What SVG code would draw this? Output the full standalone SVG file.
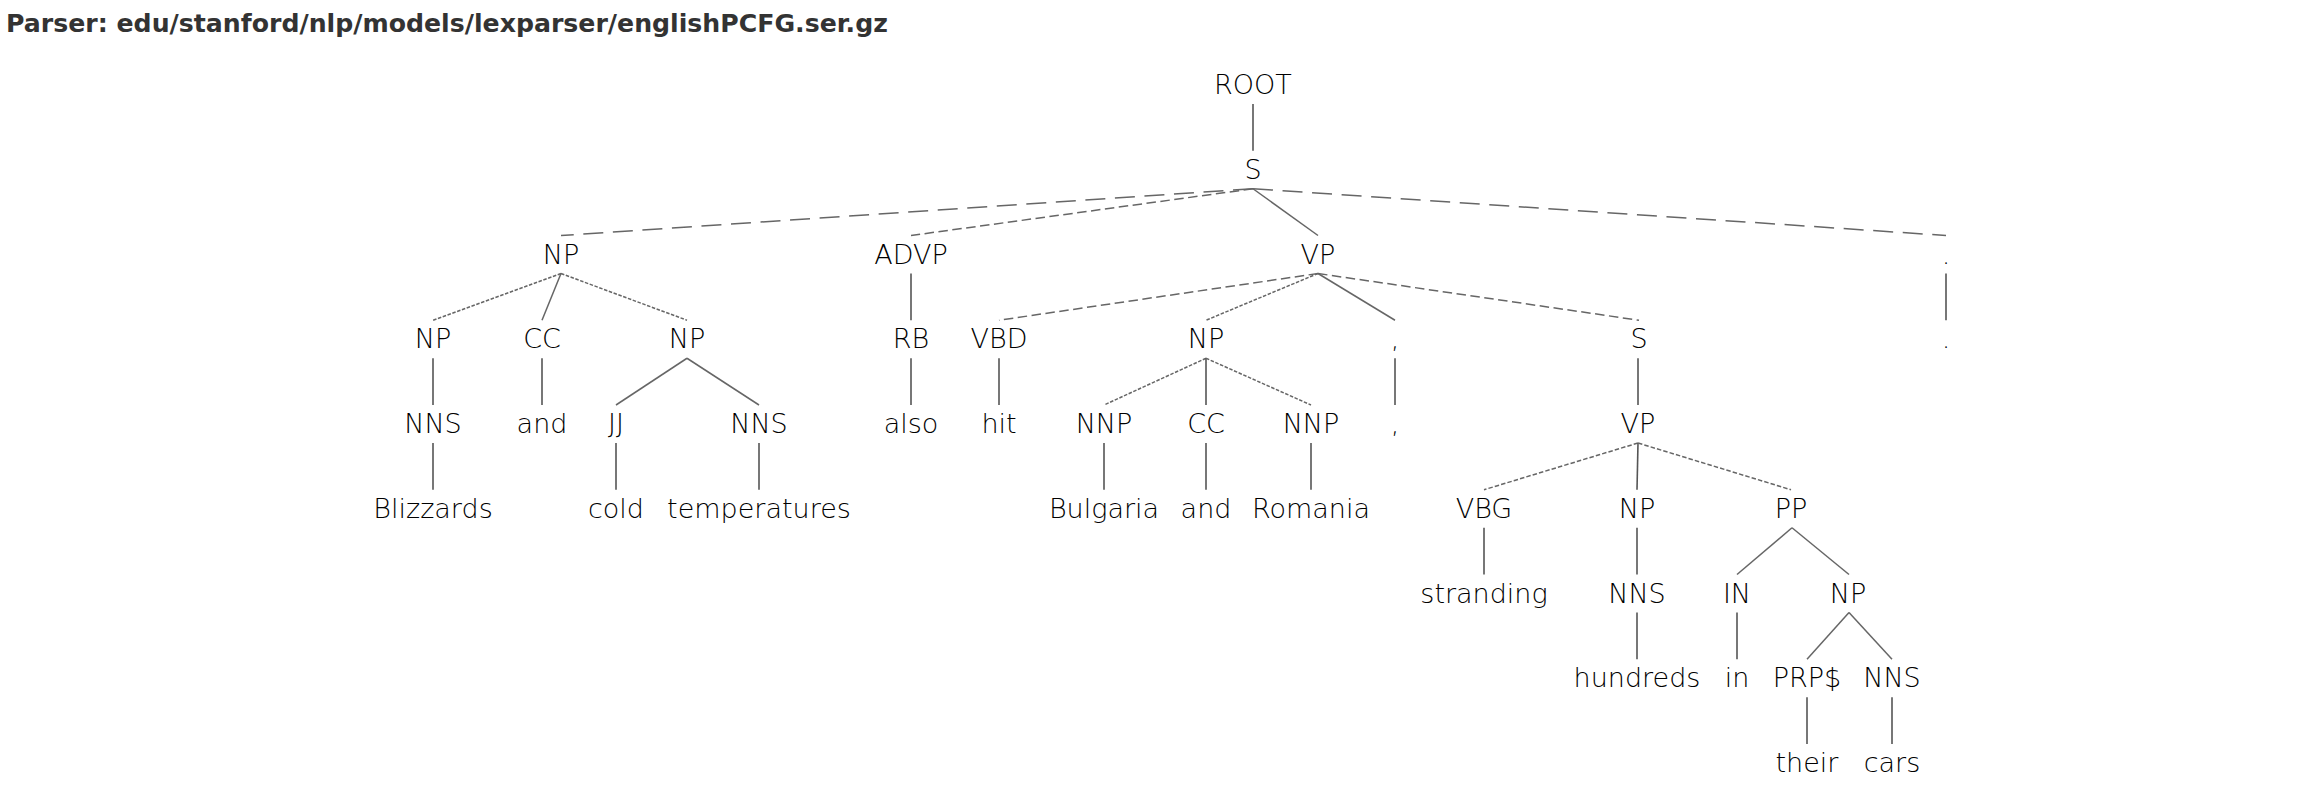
<svg xmlns="http://www.w3.org/2000/svg" width="2322" height="804" viewBox="0 0 2322 804">
<style>
.title{font-family:"DejaVu Sans","Liberation Sans",sans-serif;font-weight:bold;font-size:25.2px;fill:#333}
.t{font-family:"DejaVu Sans","Liberation Sans",sans-serif;font-weight:200;font-size:27px;fill:#000;text-anchor:middle}
#edges line{stroke:#555;stroke-width:1.6;fill:none}
#edges line.d1{stroke:#666;stroke-width:1.5;stroke-dasharray:20 9.6}
#edges line.d2{stroke:#666;stroke-width:1.5;stroke-dasharray:9.5 4.5}
#edges line.d3{stroke:#666;stroke-width:1.5;stroke-dasharray:4.5 2.1}
#edges line.d4{stroke:#666;stroke-width:1.5;stroke-dasharray:3.5 1.6}
#edges line.s{stroke:#666;stroke-width:1.5}
</style>
<rect width="2322" height="804" fill="#fff"/>
<text class="title" x="6" y="32">Parser: edu/stanford/nlp/models/lexparser/englishPCFG.ser.gz</text>
<g id="edges">
<line x1="1253" y1="104" x2="1253" y2="150.75"/>
<line class="d1" x1="1253" y1="188.75" x2="561" y2="235.5"/>
<line class="d2" x1="1253" y1="188.75" x2="911" y2="235.5"/>
<line class="s" x1="1253" y1="188.75" x2="1318" y2="235.5"/>
<line class="d1" x1="1253" y1="188.75" x2="1946" y2="235.5"/>
<line class="d4" x1="561" y1="273.5" x2="433" y2="320.25"/>
<line class="s" x1="561" y1="273.5" x2="542" y2="320.25"/>
<line class="d4" x1="561" y1="273.5" x2="687" y2="320.25"/>
<line x1="911" y1="273.5" x2="911" y2="320.25"/>
<line class="d2" x1="1318" y1="273.5" x2="999" y2="320.25"/>
<line class="d4" x1="1318" y1="273.5" x2="1206" y2="320.25"/>
<line class="s" x1="1318" y1="273.5" x2="1395" y2="320.25"/>
<line class="d2" x1="1318" y1="273.5" x2="1639" y2="320.25"/>
<line x1="1946" y1="273.5" x2="1946" y2="320.25"/>
<line x1="433" y1="358.25" x2="433" y2="405"/>
<line x1="542" y1="358.25" x2="542" y2="405"/>
<line class="s" x1="687" y1="358.25" x2="616" y2="405"/>
<line class="s" x1="687" y1="358.25" x2="759" y2="405"/>
<line x1="911" y1="358.25" x2="911" y2="405"/>
<line x1="999" y1="358.25" x2="999" y2="405"/>
<line class="d4" x1="1206" y1="358.25" x2="1104" y2="405"/>
<line x1="1206" y1="358.25" x2="1206" y2="405"/>
<line class="d4" x1="1206" y1="358.25" x2="1311" y2="405"/>
<line x1="1395" y1="358.25" x2="1395" y2="405"/>
<line x1="1638" y1="358.25" x2="1638" y2="405"/>
<line x1="433" y1="443" x2="433" y2="489.75"/>
<line x1="616" y1="443" x2="616" y2="489.75"/>
<line x1="759" y1="443" x2="759" y2="489.75"/>
<line x1="1104" y1="443" x2="1104" y2="489.75"/>
<line x1="1206" y1="443" x2="1206" y2="489.75"/>
<line x1="1311" y1="443" x2="1311" y2="489.75"/>
<line class="d3" x1="1638" y1="443" x2="1484" y2="489.75"/>
<line x1="1638" y1="443" x2="1637" y2="489.75"/>
<line class="d3" x1="1638" y1="443" x2="1791" y2="489.75"/>
<line x1="1484" y1="527.75" x2="1484" y2="574.5"/>
<line x1="1637" y1="527.75" x2="1637" y2="574.5"/>
<line class="s" x1="1792" y1="527.75" x2="1737" y2="574.5"/>
<line class="s" x1="1792" y1="527.75" x2="1849" y2="574.5"/>
<line x1="1637" y1="612.5" x2="1637" y2="659.25"/>
<line x1="1737" y1="612.5" x2="1737" y2="659.25"/>
<line class="s" x1="1849" y1="612.5" x2="1807" y2="659.25"/>
<line class="s" x1="1849" y1="612.5" x2="1892" y2="659.25"/>
<line x1="1807" y1="697.25" x2="1807" y2="744"/>
<line x1="1892" y1="697.25" x2="1892" y2="744"/>
</g>
<g id="n_root"><text class="t" x="1253" y="94">ROOT</text></g>
<g id="n_s"><text class="t" x="1253" y="178.75">S</text></g>
<g id="n_np1"><text class="t" x="561" y="263.5">NP</text></g>
<g id="n_advp"><text class="t" x="911" y="263.5">ADVP</text></g>
<g id="n_vp1"><text class="t" x="1318" y="263.5">VP</text></g>
<g id="n_dot_tag"><text class="t" x="1946" y="263.5">.</text></g>
<g id="n_np2"><text class="t" x="433" y="348.25">NP</text></g>
<g id="n_cc1"><text class="t" x="542" y="348.25">CC</text></g>
<g id="n_np3"><text class="t" x="687" y="348.25">NP</text></g>
<g id="n_rb"><text class="t" x="911" y="348.25">RB</text></g>
<g id="n_vbd"><text class="t" x="999" y="348.25">VBD</text></g>
<g id="n_np4"><text class="t" x="1206" y="348.25">NP</text></g>
<g id="n_comma_tag"><text class="t" x="1395" y="348.25">,</text></g>
<g id="n_s2"><text class="t" x="1639" y="348.25">S</text></g>
<g id="n_dot"><text class="t" x="1946" y="348.25">.</text></g>
<g id="n_nns1"><text class="t" x="433" y="433">NNS</text></g>
<g id="n_and1"><text class="t" x="542" y="433">and</text></g>
<g id="n_jj"><text class="t" x="616" y="433">JJ</text></g>
<g id="n_nns2"><text class="t" x="759" y="433">NNS</text></g>
<g id="n_also"><text class="t" x="911" y="433">also</text></g>
<g id="n_hit"><text class="t" x="999" y="433">hit</text></g>
<g id="n_nnp1"><text class="t" x="1104" y="433">NNP</text></g>
<g id="n_cc2"><text class="t" x="1206" y="433">CC</text></g>
<g id="n_nnp2"><text class="t" x="1311" y="433">NNP</text></g>
<g id="n_comma"><text class="t" x="1395" y="433">,</text></g>
<g id="n_vp2"><text class="t" x="1638" y="433">VP</text></g>
<g id="n_blizzards"><text class="t" x="433" y="517.75">Blizzards</text></g>
<g id="n_cold"><text class="t" x="616" y="517.75">cold</text></g>
<g id="n_temperatures"><text class="t" x="759" y="517.75">temperatures</text></g>
<g id="n_bulgaria"><text class="t" x="1104" y="517.75">Bulgaria</text></g>
<g id="n_and2"><text class="t" x="1206" y="517.75">and</text></g>
<g id="n_romania"><text class="t" x="1311" y="517.75">Romania</text></g>
<g id="n_vbg"><text class="t" x="1484" y="517.75">VBG</text></g>
<g id="n_np5"><text class="t" x="1637" y="517.75">NP</text></g>
<g id="n_pp"><text class="t" x="1791" y="517.75">PP</text></g>
<g id="n_stranding"><text class="t" x="1484" y="602.5">stranding</text></g>
<g id="n_nns3"><text class="t" x="1637" y="602.5">NNS</text></g>
<g id="n_in_tag"><text class="t" x="1737" y="602.5">IN</text></g>
<g id="n_np6"><text class="t" x="1848" y="602.5">NP</text></g>
<g id="n_hundreds"><text class="t" x="1637" y="687.25">hundreds</text></g>
<g id="n_in"><text class="t" x="1737" y="687.25">in</text></g>
<g id="n_prp"><text class="t" x="1807" y="687.25">PRP$</text></g>
<g id="n_nns4"><text class="t" x="1892" y="687.25">NNS</text></g>
<g id="n_their"><text class="t" x="1807" y="772">their</text></g>
<g id="n_cars"><text class="t" x="1892" y="772">cars</text></g>
</svg>
